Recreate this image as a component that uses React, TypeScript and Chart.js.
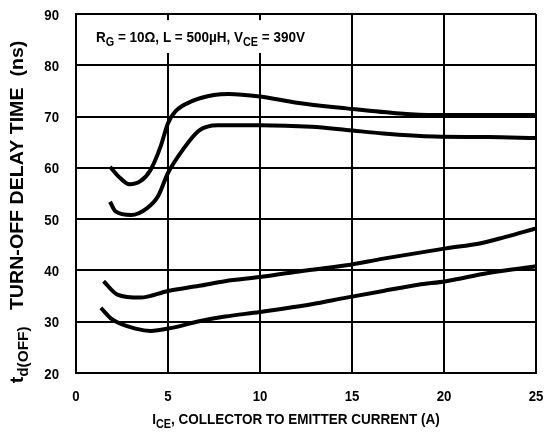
import React, { useEffect, useRef } from "react";
import { Chart, registerables } from "chart.js";

Chart.register(...registerables);

const curve1X = [1.85, 2.4, 2.9, 3.5, 4.05, 4.6, 5.0, 5.4, 6.3, 7.5, 8.3, 10.0, 12.0, 14.7, 17.6, 19.5, 22.0, 25.0];
const curve1Y = [60.2, 58.0, 56.8, 57.4, 59.6, 64.2, 68.7, 71.0, 73.0, 74.2, 74.4, 73.9, 72.7, 71.6, 70.6, 70.3, 70.3, 70.3];

const curve2X = [1.85, 2.15, 3.0, 3.85, 4.45, 5.0, 5.8, 6.7, 7.7, 10.0, 12.8, 14.7, 16.7, 19.5, 22.4, 25.0];
const curve2Y = [53.4, 51.5, 50.8, 52.1, 54.4, 59.0, 63.5, 67.3, 68.3, 68.3, 68.0, 67.4, 66.7, 66.1, 66.0, 65.8];

const curve3X = [1.5, 2.25, 3.5, 5.0, 6.7, 8.1, 10.0, 11.9, 14.7, 16.7, 20.1, 22.0, 23.3, 25.0];
const curve3Y = [37.9, 35.3, 34.7, 36.0, 37.0, 37.9, 38.7, 39.7, 41.0, 42.3, 44.3, 45.3, 46.5, 48.2];

const curve4X = [1.35, 1.95, 3.3, 4.05, 5.2, 6.7, 8.1, 10.0, 12.8, 14.7, 16.7, 18.6, 20.1, 22.4, 25.0];
const curve4Y = [32.7, 30.5, 28.6, 28.2, 28.8, 30.1, 31.0, 31.9, 33.4, 34.7, 36.0, 37.2, 37.9, 39.5, 40.8];

const xTicks = [0, 5, 10, 15, 20, 25];
const yTicks = [20, 30, 40, 50, 60, 70, 80, 90];

const FONT = '"Liberation Sans", Arial, sans-serif';

type Part = { t: string; sub?: boolean };

function drawParts(
  ctx: CanvasRenderingContext2D,
  parts: Part[],
  size: number,
  subSize: number,
  sx: number,
  x: number,
  y: number,
  align: "left" | "center" | "right"
) {
  const widths = parts.map((p) => {
    ctx.font = `bold ${p.sub ? subSize : size}px ${FONT}`;
    return ctx.measureText(p.t).width * sx;
  });
  const total = widths.reduce((a, b) => a + b, 0);
  let cx = align === "center" ? x - total / 2 : align === "right" ? x - total : x;
  ctx.textAlign = "left";
  ctx.textBaseline = "alphabetic";
  parts.forEach((p, i) => {
    ctx.font = `bold ${p.sub ? subSize : size}px ${FONT}`;
    ctx.save();
    ctx.translate(cx, p.sub ? y + size * 0.28 : y);
    ctx.scale(sx, 1);
    ctx.fillText(p.t, 0, 0);
    ctx.restore();
    cx += widths[i];
  });
}

const decorPlugin = {
  id: "decor",
  beforeDatasetsDraw(chart: any) {
    const ctx = chart.ctx as CanvasRenderingContext2D;
    const xs = chart.scales.x;
    const ys = chart.scales.y;
    ctx.save();
    const bx = xs.left + 2;
    const by = ys.getPixelForValue(88.8);
    const bw = xs.getPixelForValue(13) - bx;
    const bh = ys.getPixelForValue(82.4) - by;
    ctx.fillStyle = "#ffffff";
    ctx.fillRect(bx, by, bw, bh);
    ctx.fillStyle = "#000000";
    drawParts(
      ctx,
      [
        { t: "R" },
        { t: "G", sub: true },
        { t: " = 10\u03A9, L = 500\u00B5H, V" },
        { t: "CE", sub: true },
        { t: " = 390V" },
      ],
      15,
      12,
      0.9,
      96,
      41.5,
      "left"
    );
    ctx.restore();
  },
  afterDraw(chart: any) {
    const ctx = chart.ctx as CanvasRenderingContext2D;
    const xs = chart.scales.x;
    const ys = chart.scales.y;
    ctx.save();
    ctx.fillStyle = "#000000";
    xTicks.forEach((v) => {
      drawParts(ctx, [{ t: String(v) }], 15, 12, 0.88, xs.getPixelForValue(v), 401, "center");
    });
    yTicks.forEach((v) => {
      drawParts(ctx, [{ t: String(v) }], 15, 12, 0.88, 59, ys.getPixelForValue(v) + 5.5, "right");
    });
    drawParts(
      ctx,
      [{ t: "I" }, { t: "CE", sub: true }, { t: ", COLLECTOR TO EMITTER CURRENT (A)" }],
      15,
      12,
      0.9,
      296,
      424,
      "center"
    );
    ctx.translate(23, 212);
    ctx.rotate(-Math.PI / 2);
    drawParts(
      ctx,
      [{ t: "t" }, { t: "d(OFF)", sub: true }, { t: "   TURN-OFF DELAY TIME  (ns)" }],
      18.5,
      14.5,
      1.06,
      0,
      0,
      "center"
    );
    ctx.restore();
  },
};

export default function App() {
  const ref = useRef<HTMLCanvasElement>(null);
  useEffect(() => {
    document.body.style.margin = "0";
    const canvas = ref.current!;
    const ds = (xs: number[], ys: number[]) => ({
      data: xs.map((x, i) => ({ x, y: ys[i] })),
      borderColor: "#000000",
      borderWidth: 4,
      pointRadius: 0,
      fill: false,
      tension: 0.4,
      cubicInterpolationMode: "monotone" as const,
      borderCapStyle: "butt" as const,
    });
    const chart = new Chart(canvas, {
      type: "line",
      data: {
        datasets: [ds(curve1X, curve1Y), ds(curve2X, curve2Y), ds(curve3X, curve3Y), ds(curve4X, curve4Y)],
      },
      plugins: [decorPlugin],
      options: {
        animation: false,
        responsive: false,
        maintainAspectRatio: false,
        layout: { padding: { left: 0, top: 14, right: 9, bottom: 0 } },
        plugins: { legend: { display: false }, tooltip: { enabled: false }, title: { display: false } },
        scales: {
          x: {
            type: "linear",
            min: 0,
            max: 25,
            afterBuildTicks: (s: any) => {
              s.ticks = xTicks.map((v) => ({ value: v }));
            },
            afterFit: (s: any) => {
              s.height = 61;
            },
            grid: { color: "#000000", lineWidth: 2, drawTicks: false },
            border: { color: "#000000", width: 2 },
            ticks: { display: false },
          },
          y: {
            type: "linear",
            min: 20,
            max: 90,
            afterBuildTicks: (s: any) => {
              s.ticks = yTicks.map((v) => ({ value: v }));
            },
            afterFit: (s: any) => {
              s.width = 76;
            },
            grid: { color: "#000000", lineWidth: 2, drawTicks: false },
            border: { color: "#000000", width: 2 },
            ticks: { display: false },
          },
        },
      },
    });
    return () => chart.destroy();
  }, []);
  return (
    <div style={{ position: "relative", width: 545, height: 434, background: "#fff" }}>
      <canvas ref={ref} width={545} height={434} style={{ display: "block" }} />
    </div>
  );
}
